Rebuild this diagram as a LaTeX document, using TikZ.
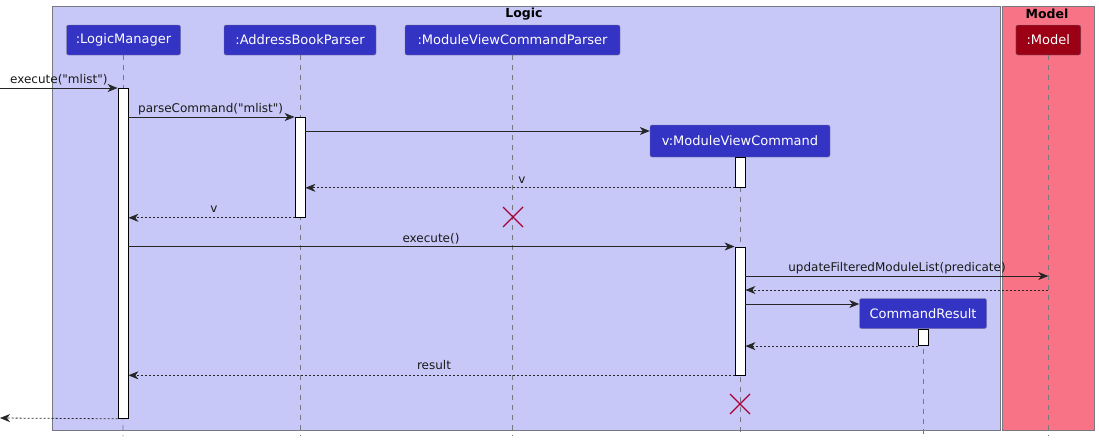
\documentclass[tikz,border=0pt]{standalone}
\usepackage{fontspec}
\setmainfont{DejaVu Sans}[Ligatures=TeXOff]
\usetikzlibrary{arrows.meta}
\definecolor{logicbg}{RGB}{200,200,248}
\definecolor{modelbg}{RGB}{249,115,134}
\definecolor{partblue}{RGB}{51,51,196}
\definecolor{partred}{RGB}{155,0,20}
\definecolor{killred}{RGB}{168,0,54}
\definecolor{framegray}{RGB}{120,120,130}
\begin{document}
\begin{tikzpicture}[x=1pt,y=-1pt,
 part/.style={draw=framegray, rounded corners=2pt, text=white, font=\fontsize{13}{15}\selectfont, inner sep=0pt, minimum height=30pt},
 life/.style={draw=framegray, dash pattern=on 5pt off 5pt, line width=0.6pt},
 bar/.style={draw=black, fill=white, line width=0.8pt, inner sep=0pt, minimum width=10pt, anchor=north},
 msg/.style={-{Stealth[length=10pt,width=8pt,inset=3pt]}, line width=0.8pt, draw=black!85},
 ret/.style={msg, dash pattern=on 2pt off 2pt},
 lbl/.style={font=\fontsize{12}{14}\selectfont, text=black!90, inner sep=0pt},
 grp/.style={draw=framegray, line width=0.8pt},
 grptitle/.style={font=\bfseries\fontsize{12.5}{14}\selectfont, inner sep=0pt},
 kill/.style={draw=killred, line width=1.2pt}
]
\useasboundingbox[fill=white] (0,0) rectangle (1099,442);
% group boxes
\node[grp, fill=logicbg, minimum width=948pt, minimum height=424pt, anchor=north west, inner sep=0pt] (logic) at (52,6) {};
\node[grp, fill=modelbg, minimum width=92pt, minimum height=424pt, anchor=north west, inner sep=0pt] (model) at (1002,6) {};
\node[grptitle] (logicT) at (524,14) {Logic};
\node[grptitle] (modelT) at (1047,14) {Model};
% participants
\node[part, fill=partblue, minimum width=114pt] (lm) at (123.5,40) {:LogicManager};
\node[part, fill=partblue, minimum width=152pt] (abp) at (300,40) {:AddressBookParser};
\node[part, fill=partblue, minimum width=215pt] (mvcp) at (512.5,40) {:ModuleViewCommandParser};
\node[part, fill=partred, minimum width=65pt] (mdl) at (1048.3,40) {:Model};
\node[part, fill=partblue, minimum width=180pt, minimum height=32pt] (mvc) at (740,141) {v:ModuleViewCommand};
\node[part, fill=partblue, minimum width=127pt] (cr) at (923,313.5) {CommandResult};
% lifeline ends
\coordinate (lmE) at (123,436);
\coordinate (abpE) at (300,436);
\coordinate (mvcpE) at (512.5,436);
\coordinate (mdlE) at (1048.3,436);
\coordinate (mvcE) at (740,436);
\coordinate (crE) at (923,436);
\draw[life] (lm.south) -- (lmE);
\draw[life] (abp.south) -- (abpE);
\draw[life] (mvcp.south) -- (mvcpE);
\draw[life] (mdl.south) -- (mdlE);
\draw[life] (mvc.south) -- (mvcE);
\draw[life] (cr.south) -- (crE);
% activation bars
\node[bar, minimum height=330pt] (lmA) at (123,88) {};
\node[bar, minimum height=100pt] (abpA) at (300,117) {};
\node[bar, minimum height=30pt] (mvcA1) at (740,157) {};
\node[bar, minimum height=128pt] (mvcA2) at (740,246.5) {};
\node[bar, minimum height=16.5pt] (crA) at (923,328.8) {};
% external ends
\coordinate (extIn) at (0,88);
\coordinate (extOut) at (0,418);
% messages
\draw[msg] (extIn) -- (lmA.north west);
\node[lbl, anchor=base west] (l1) at (10,83.5) {execute("mlist")};
\draw[msg] (lmA.east |- abpA.north) -- (abpA.north west);
\node[lbl, anchor=base west] (l2) at (138,112.5) {parseCommand("mlist")};
\draw[msg] (abpA.east |- 0,131) -- (mvc.west |- 0,131);
\draw[ret] (mvcA1.south west) -- (abpA.east |- mvcA1.south);
\node[lbl, anchor=base] (l3) at (522,183) {v};
\draw[ret] (abpA.south west) -- (lmA.east |- abpA.south);
\node[lbl, anchor=base] (l4) at (214,212) {v};
\draw[kill] (503,207) -- (523,227) (503,227) -- (523,207);
\draw[msg] (lmA.east |- mvcA2.north) -- (mvcA2.north west);
\node[lbl, anchor=base] (l5) at (431,242) {execute()};
\draw[msg] (mvcA2.east |- 0,276) -- (mdl.south |- 0,276);
\node[lbl, anchor=base] (l6) at (897,271) {updateFilteredModuleList(predicate)};
\draw[ret] (mdl.south |- 0,290) -- (mvcA2.east |- 0,290);
\draw[msg] (mvcA2.east |- 0,304) -- (cr.west |- 0,304);
\draw[ret] (crA.south west) -- (mvcA2.east |- crA.south);
\draw[ret] (mvcA2.south west) -- (lmA.east |- mvcA2.south);
\node[lbl, anchor=base] (l7) at (434,369) {result};
\draw[ret] (lmA.south west) -- (extOut);
\draw[kill] (730,394) -- (750,414) (730,414) -- (750,394);
\end{tikzpicture}
\end{document}
